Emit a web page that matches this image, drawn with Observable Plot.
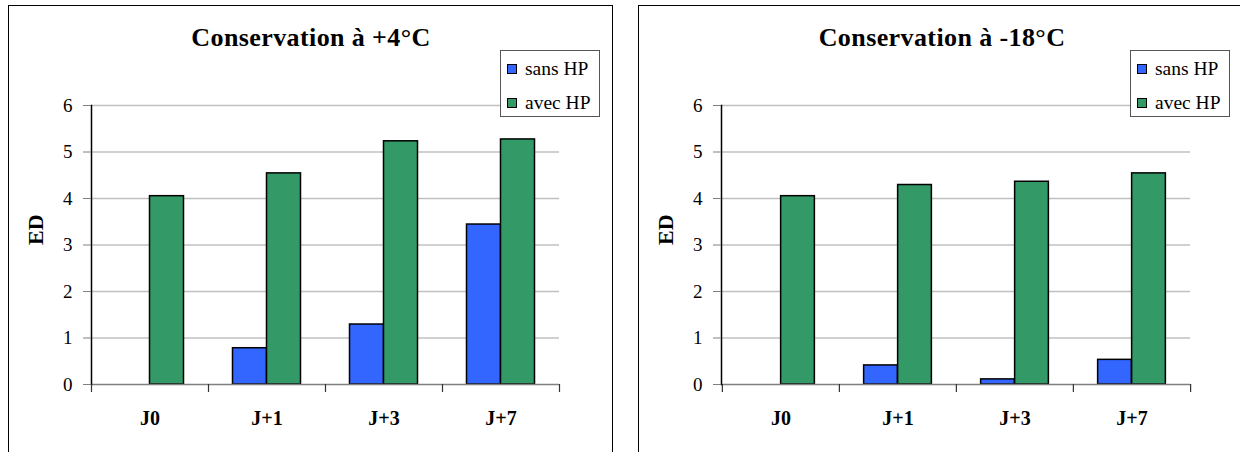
<!DOCTYPE html>
<html>
<head>
<meta charset="utf-8">
<script src="https://cdn.jsdelivr.net/npm/d3@7"></script>
<script src="https://cdn.jsdelivr.net/npm/@observablehq/plot@0.6"></script>
<style>
  body { margin: 0; background: #fff; }
  #wrap { position: relative; width: 1240px; height: 452px; overflow: hidden; font-family: "Liberation Serif", "Times New Roman", serif; }
  #wrap svg, #wrap svg text { font-family: "Liberation Serif", "Times New Roman", serif !important; }
  .panel { position: absolute; top: 0; }
  .frame { position: absolute; border: 1.5px solid #000; box-sizing: border-box; pointer-events: none; }
  .title { position: absolute; font-family: "Liberation Serif", serif; font-weight: bold; font-size: 26px; line-height: 26px; letter-spacing: 0.4px; white-space: nowrap; transform: translateX(-50%); color: #000; }
  .legend { position: absolute; border: 1.5px solid #555; box-sizing: border-box; background: #fff; font-family: "Liberation Serif", serif; }
  .legend .item { position: absolute; left: 0; font-size: 19.5px; line-height: 19px; white-space: nowrap; font-family: "Liberation Serif", serif; }
  .legend .sw { position: absolute; width: 10px; height: 10px; border: 1.5px solid #000; box-sizing: border-box; }
  .legend .lab { position: absolute; }
</style>
</head>
<body>
<div id="wrap"></div>
<script>
// ---- data ----
const categories = ["J0", "J+1", "J+3", "J+7"];
const series = ["sans HP", "avec HP"];
const sansHP_plus4 = [0, 0.78, 1.29, 3.44];
const avecHP_plus4 = [4.05, 4.54, 5.23, 5.27];
const sansHP_minus18 = [0, 0.41, 0.11, 0.53];
const avecHP_minus18 = [4.05, 4.29, 4.36, 4.54];
const yTicks = [0, 1, 2, 3, 4, 5, 6];
const titles = ["Conservation à +4°C", "Conservation à -18°C"];
const yLabel = "ED";
const colors = ["#3366FF", "#339966"];

const FONT = '"Liberation Serif", "Times New Roman", serif';
const wrap = document.getElementById("wrap");

function makePanel(sans, avec, ml, mr) {
  const rows = [];
  categories.forEach((c, i) => {
    rows.push({cat: c, s: series[0], v: sans[i]});
    rows.push({cat: c, s: series[1], v: avec[i]});
  });
  const W = 620, H = 452, mt = 105, mb = 68;
  const bw = (W - ml - mr) / categories.length;
  const barW = 34;
  const inset = (bw - barW) / 2;
  return Plot.plot({
    width: W, height: H,
    marginLeft: ml, marginRight: mr, marginTop: mt, marginBottom: mb,
    style: {fontFamily: FONT, background: "none", overflow: "visible", color: "#000"},
    x: {domain: categories, padding: 0, axis: null, label: null},
    y: {domain: [0, 6], axis: null, label: null},
    color: {domain: series, range: colors},
    marks: [
      Plot.ruleY(yTicks.filter(t => t > 0), {y: d => d, stroke: "#c0c0c0", strokeWidth: 1.5}),
      Plot.barY(rows.filter(d => d.s === series[0] && d.v > 0), {
        x: "cat", y: "v", fill: "s", stroke: "#000", strokeWidth: 1.5,
        insetLeft: inset, insetRight: inset, dx: -barW / 2
      }),
      Plot.barY(rows.filter(d => d.s === series[1] && d.v > 0), {
        x: "cat", y: "v", fill: "s", stroke: "#000", strokeWidth: 1.5,
        insetLeft: inset, insetRight: inset, dx: barW / 2
      }),
      Plot.ruleY([0], {y: d => d, stroke: "#808080", strokeWidth: 1.5}),
      Plot.frame({anchor: "left", stroke: "#000", strokeWidth: 1.5}),
      Plot.axisY({ticks: yTicks, label: null, tickSize: 8, tickPadding: 11, fontSize: 19, stroke: "#808080", fill: "#000", tickFormat: d => String(d)}),
      Plot.axisX({label: null, tickSize: 0, tickPadding: 26, fontSize: 20, fontWeight: "bold", fill: "#000"}),
      Plot.ruleX(categories, {x: d => d, dx: -bw / 2, y1: 0, y2: 0, insetBottom: -8, stroke: "#333", strokeWidth: 1.2}),
      Plot.ruleX([categories[categories.length - 1]], {x: d => d, dx: bw / 2, y1: 0, y2: 0, insetBottom: -8, stroke: "#333", strokeWidth: 1.2}),
      Plot.text([yLabel], {text: d => d, frameAnchor: "left", dx: -56, rotate: -90, fontSize: 22, fontWeight: "bold", fill: "#000"})
    ]
  });
}

function addPanel(left, sans, avec, ml, mr, title, titleX, frameLeft, frameW, legendLeft) {
  const div = document.createElement("div");
  div.className = "panel";
  div.style.left = left + "px";
  div.appendChild(makePanel(sans, avec, ml, mr));
  wrap.appendChild(div);

  const fr = document.createElement("div");
  fr.className = "frame";
  fr.style.left = frameLeft + "px";
  fr.style.top = "5px";
  fr.style.width = frameW + "px";
  fr.style.height = "460px";
  wrap.appendChild(fr);

  const t = document.createElement("div");
  t.className = "title";
  t.style.left = titleX + "px";
  t.style.top = "25px";
  t.textContent = title;
  wrap.appendChild(t);

  const lg = document.createElement("div");
  lg.className = "legend";
  lg.style.left = legendLeft + "px";
  lg.style.top = "50px";
  lg.style.width = "100px";
  lg.style.height = "67px";
  const tops = [8, 42];
  series.forEach((s, i) => {
    const sw = document.createElement("div");
    sw.className = "sw";
    sw.style.left = "6px";
    sw.style.top = (tops[i] + 5) + "px";
    sw.style.background = colors[i];
    lg.appendChild(sw);
    const lab = document.createElement("div");
    lab.className = "item lab";
    lab.style.left = "24px";
    lab.style.top = tops[i] + "px";
    lab.textContent = s;
    lg.appendChild(lab);
  });
  wrap.appendChild(lg);
}

addPanel(0, sansHP_plus4, avecHP_plus4, 91, 61, titles[0], 311, 8, 605, 500);
addPanel(620, sansHP_minus18, avecHP_minus18, 101, 50, titles[1], 942, 638, 620, 1130);
</script>
</body>
</html>
